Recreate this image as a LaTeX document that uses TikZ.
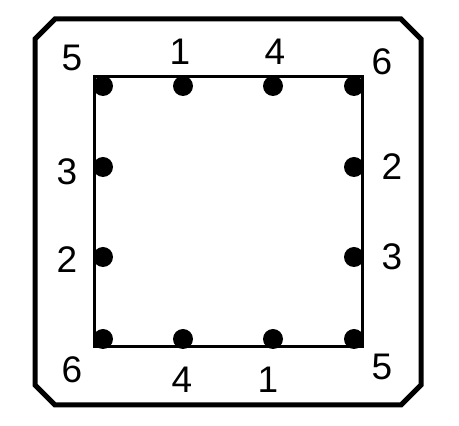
\documentclass[tikz,border=0pt]{standalone}
\usepackage{fontspec}
\setmainfont{Liberation Sans}
\usetikzlibrary{positioning}

\begin{document}
\begin{tikzpicture}[
            x=1pt, y=1pt,
            pin/.style={circle, fill=black, minimum size=20pt, inner sep=0pt},
            num/.style={inner sep=0pt, font=\fontsize{37}{37}\selectfont},
            frame/.style={line width=5pt, line join=miter},
            body/.style={line width=3pt}
        ]
            \useasboundingbox (0,0) rectangle (459,426);

            % outer frame with cut corners
            \draw[frame] (55,407) -- (401,407) -- (421,387) -- (421,41)
                -- (401,21) -- (55,21) -- (35,41) -- (35,387) -- cycle;

            % inner square
            \draw[body] (94,349) rectangle (362,79);

            % pins, top row
            \node[pin] (t1) at (103,340) {};
            \node[pin] (t2) at (183,340) {};
            \node[pin] (t3) at (273,340) {};
            \node[pin] (t4) at (354,340) {};
            % pins, sides
            \node[pin] (l1) at (103,259) {};
            \node[pin] (l2) at (103,169) {};
            \node[pin] (r1) at (354,259) {};
            \node[pin] (r2) at (354,169) {};
            % pins, bottom row
            \node[pin] (b1) at (103,87) {};
            \node[pin] (b2) at (183,87) {};
            \node[pin] (b3) at (273,87) {};
            \node[pin] (b4) at (354,87) {};

            % numbers
            \node[num] (n5a) at (72,368) {5};
            \node[num] (n1a) at (180,374) {1};
            \node[num] (n4a) at (275,374) {4};
            \node[num] (n6a) at (382,364) {6};
            \node[num] (n3a) at (67,254) {3};
            \node[num] (n2a) at (67,166) {2};
            \node[num] (n2b) at (392,259) {2};
            \node[num] (n3b) at (392,169) {3};
            \node[num] (n6b) at (72,56) {6};
            \node[num] (n4b) at (182,46) {4};
            \node[num] (n1b) at (268,46) {1};
            \node[num] (n5b) at (382,59) {5};
        \end{tikzpicture}
\end{document}
